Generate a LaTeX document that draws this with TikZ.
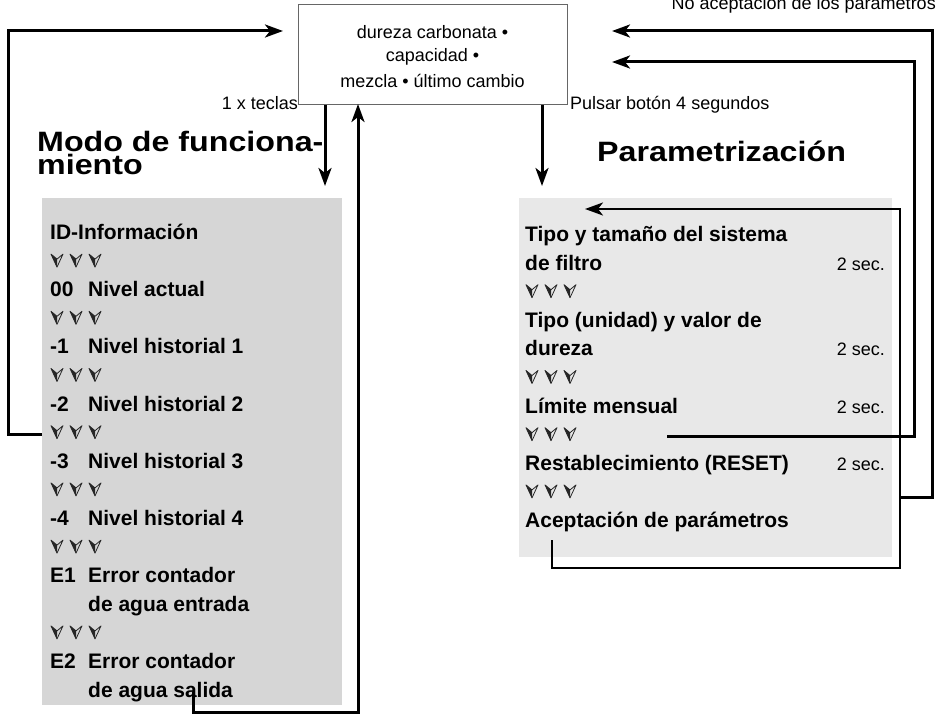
\documentclass[tikz,border=0pt]{standalone}
\usepackage{fontspec}
\setmainfont{Liberation Sans}
\newfontfamily\headfont[FakeStretch=1.15]{Liberation Sans}
\usetikzlibrary{arrows.meta}
\definecolor{lpgray}{RGB}{214,214,214}
\definecolor{rpgray}{RGB}{232,232,232}
\tikzset{
  conn/.style={line width=3pt, line join=miter, -{Stealth[length=18pt,width=13pt,inset=5pt]}},
  connthin/.style={line width=2.2pt, line join=miter, -{Stealth[length=18pt,width=13pt,inset=5pt]}},
  lab/.style={font=\fontsize{18}{20}\selectfont, inner sep=0pt},
  rowtxt/.style={font=\bfseries\fontsize{21}{24}\selectfont, anchor=base west, inner sep=0pt},
  sectxt/.style={font=\fontsize{18}{20}\selectfont, anchor=base east, inner sep=0pt},
  headtxt/.style={font=\headfont\bfseries\fontsize{28}{24}\selectfont, anchor=base west, inner sep=0pt},
  tri/.pic={
    \fill[black!85] (-6,-6.5) -- (0,6.5) -- (0,-1.5) -- cycle;
    \draw[line width=0.8pt, black!85, line join=round] (-6,-6.5) -- (0,6.5) -- (6,-6.5) -- (0,-1.5) -- cycle;
  }
}
\newcommand\threetri[2]{\foreach \dx in {0,19,38} {\pic at ({#1+\dx},#2) {tri};}}
\begin{document}
\begin{tikzpicture}[x=1pt,y=-1pt]
\useasboundingbox (0,0) rectangle (938,717);

% panels
\node[fill=lpgray, minimum width=300pt, minimum height=507pt, anchor=north west, inner sep=0pt] (lp) at (42,198) {};
\node[fill=rpgray, minimum width=373pt, minimum height=359pt, anchor=north west, inner sep=0pt] (rp) at (519,198) {};

% top box
\node[draw=black!60, line width=0.8pt, fill=white, minimum width=269pt, minimum height=100pt, anchor=north west, inner sep=0pt] (top) at (298,4) {};
\node[lab] (t1) at (432.5,32) {dureza carbonata •};
\node[lab] (t2) at (432.5,57) {capacidad •};
\node[lab] (t3) at (432.5,81) {mezcla • último cambio};

% labels
\node[lab, anchor=base east] (keys) at (298,110) {1 x teclas};
\node[lab, anchor=base west] (push) at (570,110) {Pulsar botón 4 segundos};
\node[lab, anchor=base east] (noacc) at (936,10) {No aceptación de los parámetros};

% headings
\node[headtxt] (modo1) at (37,151) {Modo de funciona-};
\node[headtxt] (modo2) at (37,175) {miento};
\node[headtxt] (param) at (597,161) {Parametrización};

% left panel rows
\node[rowtxt] (l0) at (50,239.5) {ID-Información};
\threetri{57}{260.6}
\node[rowtxt] (l2a) at (50,296.7) {00};
\node[rowtxt] (l2b) at (88,296.7) {Nivel actual};
\threetri{57}{317.8}
\node[rowtxt] (l4a) at (50,353.9) {-1};
\node[rowtxt] (l4b) at (88,353.9) {Nivel historial 1};
\threetri{57}{375}
\node[rowtxt] (l6a) at (50,411.1) {-2};
\node[rowtxt] (l6b) at (88,411.1) {Nivel historial 2};
\threetri{57}{432.2}
\node[rowtxt] (l8a) at (50,468.3) {-3};
\node[rowtxt] (l8b) at (88,468.3) {Nivel historial 3};
\threetri{57}{489.4}
\node[rowtxt] (l10a) at (50,525.5) {-4};
\node[rowtxt] (l10b) at (88,525.5) {Nivel historial 4};
\threetri{57}{546.6}
\node[rowtxt] (l12a) at (50,582.7) {E1};
\node[rowtxt] (l12b) at (88,582.7) {Error contador};
\node[rowtxt] (l13) at (88,611.3) {de agua entrada};
\threetri{57}{632.4}
\node[rowtxt] (l15a) at (50,668.5) {E2};
\node[rowtxt] (l15b) at (88,668.5) {Error contador};
\node[rowtxt] (l16) at (88,697.1) {de agua salida};

% right panel rows
\node[rowtxt] (r0) at (525,241.5) {Tipo y tamaño del sistema};
\node[rowtxt] (r1) at (525,270.1) {de filtro};
\node[sectxt] (s1) at (885,270.1) {2 sec.};
\threetri{532}{291.2}
\node[rowtxt] (r3) at (525,327.3) {Tipo (unidad) y valor de};
\node[rowtxt] (r4) at (525,355.9) {dureza};
\node[sectxt] (s4) at (885,355.9) {2 sec.};
\threetri{532}{377}
\node[rowtxt] (r6) at (525,413.1) {Límite mensual};
\node[sectxt] (s6) at (885,413.1) {2 sec.};
\threetri{532}{434.2}
\node[rowtxt] (r8) at (525,470.3) {Restablecimiento (RESET)};
\node[sectxt] (s8) at (885,470.3) {2 sec.};
\threetri{532}{491.4}
\node[rowtxt] (r10) at (525,527.5) {Aceptación de parámetros};

% connector end points
\coordinate (lstart) at (lp.west |- 0,434);
\coordinate (ltip) at (283,31);
\coordinate (e2) at (193,692);
\coordinate (upx) at (358,104);
\coordinate (acc) at (552,540);
\coordinate (rtip0) at (585,209);
\coordinate (lim) at (667,436);
\coordinate (rtip1) at (612,62);
\coordinate (junc) at (900,497);
\coordinate (rtip2) at (612,31);

% connectors
\draw[conn] (lstart) -- (8,434) -- (8,31) -- (ltip);
\draw[conn] (top.south west -| 325,0) -- (325,186);
\draw[conn] (top.south east -| 542,0) -- (542,186);
\draw[conn] (e2) -- (193,712) -- (358,712) -- (upx);
\draw[connthin] (acc) -- (552,568) -- (900,568) -- (900,209) -- (rtip0);
\draw[conn] (lim) -- (914,436) -- (914,62) -- (rtip1);
\draw[conn] (junc) -- (932,497) -- (932,31) -- (rtip2);
\end{tikzpicture}
\end{document}
